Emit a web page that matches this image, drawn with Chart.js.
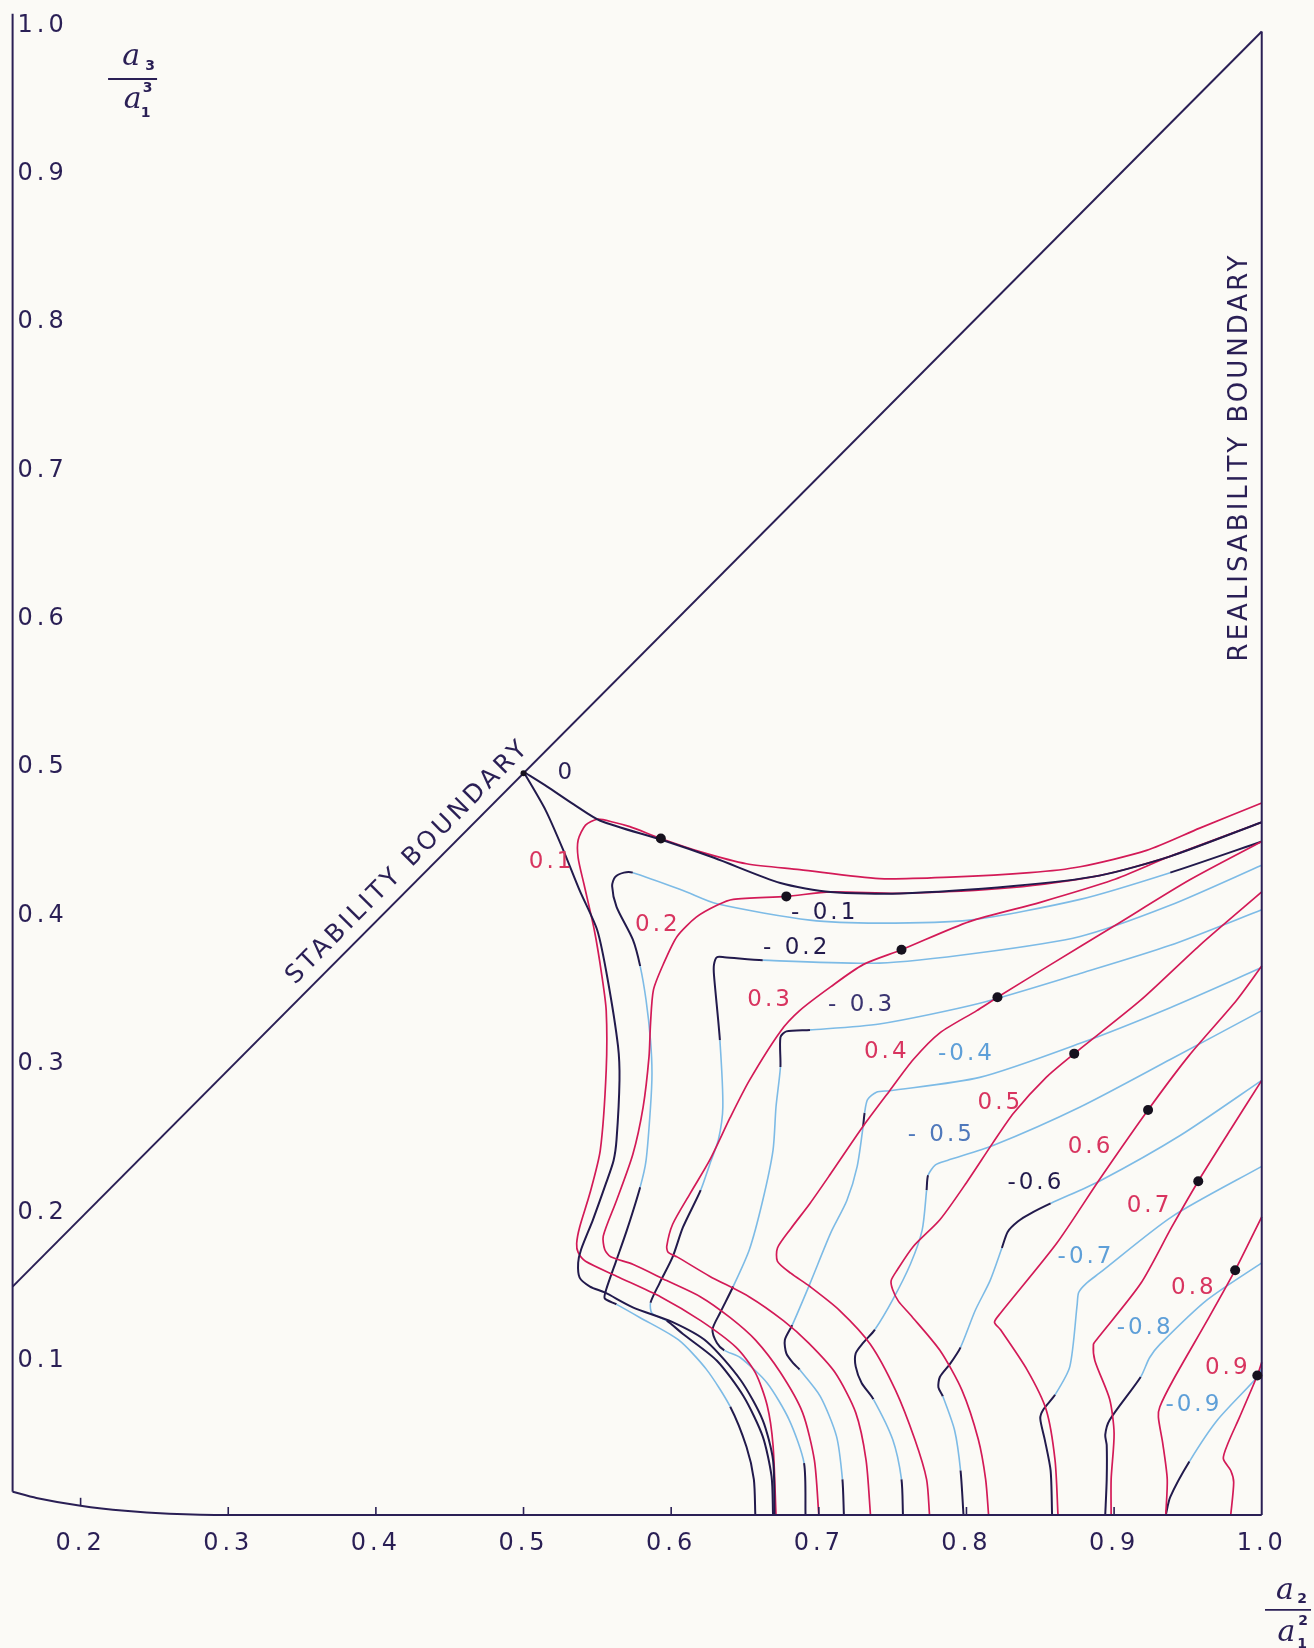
<!DOCTYPE html>
<html lang="en">
<head>
<meta charset="utf-8">
<title>Stability and realisability chart</title>
<script src="https://cdn.jsdelivr.net/npm/chart.js@4/dist/chart.umd.min.js"></script>
<style>
  html, body { margin: 0; padding: 0; background: #fbfaf6; }
  #frame { position: relative; width: 1314px; height: 1648px; }
</style>
</head>
<body>
<div id="frame"><canvas id="chart"></canvas></div>
<script>
// ---- axis ticks --------------------------------------------------------
const xTicks = [0.2, 0.3, 0.4, 0.5, 0.6, 0.7, 0.8, 0.9, 1.0];
const yTicks = [0.1, 0.2, 0.3, 0.4, 0.5, 0.6, 0.7, 0.8, 0.9, 1.0];

// ---- region boundaries (x = a2/a1^2, y = a3/a1^3) ---------------------
const stabilityBoundary = [[0.15394, 0.15394], [1.0, 1.0]];
const realisabilityBoundary = [[1.0, 1.0], [1.0, 0.0]];
const leftEdge = [[0.15394, 0.0157], [0.15394, 1.012]];
const bottomEdge = [[0.15394, 0.0157], [0.17, 0.0115], [0.2, 0.0062], [0.23, 0.0028], [0.26, 0.0009], [0.3, 0.0], [1.0, 0.0]];

// ---- zero contour (upper branch, apex at 0.5/0.5, lower branch) -------
const level0 = [[1.000,0.467],[0.938,0.444],[0.890,0.431],[0.832,0.424],[0.755,0.419],[0.708,0.420],[0.674,0.426],[0.629,0.443],[0.594,0.455],[0.552,0.468],[0.534,0.479],[0.516,0.491],[0.500,0.501],
  [0.515,0.475],[0.527,0.448],[0.538,0.421],[0.550,0.394],[0.557,0.361],[0.564,0.316],[0.565,0.293],[0.563,0.253],[0.561,0.239],[0.556,0.224],[0.547,0.199],[0.539,0.179],[0.537,0.170],[0.538,0.160],[0.545,0.154],[0.555,0.150],[0.574,0.140],[0.601,0.130],[0.624,0.117],[0.647,0.091],[0.662,0.064],[0.669,0.037],[0.670,0.000]];
const level0Apex = 12;

// ---- positive contours -------------------------------------------------
const pos01 = [[1.000,0.480],[0.958,0.463],[0.922,0.448],[0.877,0.437],[0.843,0.433],[0.789,0.430],[0.741,0.429],[0.687,0.435],[0.651,0.439],[0.620,0.447],[0.593,0.456],[0.572,0.464],[0.561,0.467],[0.550,0.469],[0.542,0.465],[0.537,0.455],[0.537,0.443],[0.541,0.425],[0.548,0.394],[0.553,0.364],[0.556,0.340],[0.556,0.300],[0.552,0.246],[0.545,0.217],[0.538,0.194],[0.536,0.183],[0.537,0.177],[0.542,0.171],[0.563,0.161],[0.593,0.147],[0.620,0.131],[0.644,0.113],[0.657,0.096],[0.665,0.074],[0.669,0.047],[0.671,0.000]];
const pos02 = [[1.000,0.467],[0.938,0.444],[0.890,0.431],[0.832,0.423],[0.755,0.419],[0.708,0.420],[0.678,0.417],[0.642,0.415],[0.631,0.411],[0.617,0.403],[0.604,0.390],[0.595,0.372],[0.588,0.354],[0.586,0.331],[0.585,0.309],[0.581,0.275],[0.574,0.243],[0.563,0.212],[0.554,0.188],[0.555,0.179],[0.559,0.174],[0.574,0.169],[0.597,0.158],[0.620,0.147],[0.640,0.133],[0.657,0.118],[0.674,0.096],[0.689,0.069],[0.697,0.037],[0.700,0.000]];
const pos03 = [[1.000,0.467],[0.938,0.444],[0.899,0.428],[0.850,0.413],[0.802,0.400],[0.756,0.381],[0.730,0.371],[0.708,0.356],[0.687,0.340],[0.674,0.326],[0.653,0.293],[0.640,0.268],[0.626,0.239],[0.613,0.217],[0.601,0.196],[0.597,0.181],[0.598,0.177],[0.604,0.174],[0.626,0.161],[0.653,0.147],[0.676,0.131],[0.693,0.116],[0.711,0.096],[0.725,0.069],[0.732,0.037],[0.735,0.000]];
const pos04 = [[1.000,0.454],[0.951,0.428],[0.900,0.397],[0.857,0.371],[0.821,0.349],[0.807,0.340],[0.782,0.325],[0.764,0.307],[0.748,0.286],[0.730,0.262],[0.708,0.230],[0.694,0.210],[0.681,0.193],[0.672,0.180],[0.672,0.171],[0.681,0.163],[0.694,0.154],[0.714,0.138],[0.735,0.115],[0.752,0.084],[0.765,0.051],[0.773,0.024],[0.775,0.000]];
const pos05 = [[1.000,0.420],[0.958,0.384],[0.918,0.347],[0.873,0.311],[0.854,0.295],[0.832,0.271],[0.818,0.251],[0.800,0.224],[0.782,0.199],[0.764,0.181],[0.753,0.165],[0.749,0.158],[0.750,0.152],[0.754,0.144],[0.762,0.135],[0.782,0.111],[0.797,0.084],[0.808,0.051],[0.813,0.024],[0.815,0.000]];
const pos06 = [[1.000,0.370],[0.983,0.347],[0.951,0.310],[0.923,0.273],[0.890,0.226],[0.861,0.183],[0.823,0.136],[0.819,0.130],[0.823,0.125],[0.841,0.098],[0.854,0.071],[0.860,0.037],[0.862,0.000]];
const pos07 = [[1.000,0.293],[0.979,0.260],[0.957,0.225],[0.939,0.194],[0.918,0.156],[0.888,0.118],[0.886,0.115],[0.887,0.104],[0.897,0.078],[0.900,0.055],[0.898,0.024],[0.898,0.000]];
const pos08 = [[1.000,0.201],[0.982,0.165],[0.963,0.131],[0.940,0.091],[0.931,0.073],[0.930,0.066],[0.933,0.048],[0.936,0.024],[0.935,0.000]];
const pos09 = [[1.000,0.103],[0.997,0.094],[0.985,0.066],[0.977,0.048],[0.974,0.038],[0.979,0.030],[0.981,0.022],[0.979,0.000]];

// ---- negative contours -------------------------------------------------
const neg01 = [[1.000,0.454],[0.938,0.433],[0.877,0.415],[0.802,0.401],[0.741,0.399],[0.694,0.401],[0.631,0.412],[0.608,0.421],[0.574,0.433],[0.568,0.433],[0.562,0.430],[0.560,0.424],[0.563,0.410],[0.574,0.388],[0.579,0.370],[0.583,0.347],[0.586,0.320],[0.587,0.298],[0.586,0.275],[0.583,0.239],[0.579,0.221],[0.570,0.192],[0.563,0.172],[0.556,0.152],[0.555,0.146],[0.563,0.142],[0.579,0.133],[0.605,0.118],[0.624,0.098],[0.640,0.073],[0.651,0.046],[0.656,0.024],[0.657,0.000]];
const neg02 = [[1.000,0.438],[0.938,0.411],[0.877,0.390],[0.809,0.379],[0.741,0.372],[0.662,0.374],[0.636,0.376],[0.631,0.376],[0.629,0.371],[0.629,0.364],[0.633,0.320],[0.635,0.275],[0.632,0.253],[0.626,0.236],[0.620,0.219],[0.608,0.194],[0.601,0.174],[0.592,0.156],[0.586,0.143],[0.587,0.136],[0.597,0.131],[0.608,0.122],[0.631,0.104],[0.649,0.080],[0.662,0.053],[0.668,0.026],[0.669,0.000]];
const neg03 = [[1.000,0.408],[0.938,0.384],[0.877,0.365],[0.809,0.345],[0.741,0.331],[0.694,0.327],[0.678,0.326],[0.674,0.322],[0.674,0.302],[0.671,0.275],[0.669,0.246],[0.662,0.212],[0.653,0.179],[0.642,0.154],[0.633,0.136],[0.628,0.125],[0.631,0.116],[0.636,0.111],[0.647,0.106],[0.665,0.089],[0.680,0.064],[0.690,0.035],[0.691,0.000]];
const neg04 = [[1.000,0.369],[0.938,0.342],[0.877,0.318],[0.809,0.295],[0.748,0.286],[0.739,0.285],[0.733,0.280],[0.731,0.271],[0.730,0.262],[0.726,0.235],[0.719,0.212],[0.708,0.190],[0.694,0.156],[0.682,0.128],[0.677,0.118],[0.678,0.109],[0.683,0.102],[0.687,0.098],[0.701,0.080],[0.712,0.053],[0.716,0.024],[0.717,0.000]];
const neg05 = [[1.000,0.340],[0.938,0.307],[0.877,0.275],[0.818,0.249],[0.787,0.239],[0.779,0.236],[0.774,0.229],[0.773,0.219],[0.770,0.192],[0.762,0.169],[0.750,0.145],[0.738,0.125],[0.730,0.116],[0.725,0.109],[0.725,0.100],[0.729,0.089],[0.737,0.078],[0.750,0.051],[0.756,0.024],[0.757,0.000]];
const neg06 = [[1.000,0.293],[0.945,0.256],[0.890,0.225],[0.857,0.210],[0.843,0.203],[0.835,0.198],[0.828,0.191],[0.824,0.180],[0.816,0.158],[0.806,0.138],[0.796,0.113],[0.789,0.102],[0.782,0.093],[0.781,0.086],[0.784,0.080],[0.792,0.057],[0.796,0.030],[0.798,0.000]];
const neg07 = [[1.000,0.235],[0.939,0.201],[0.890,0.163],[0.881,0.156],[0.876,0.150],[0.875,0.142],[0.870,0.100],[0.860,0.081],[0.852,0.071],[0.850,0.065],[0.853,0.051],[0.857,0.030],[0.858,0.000]];
const neg08 = [[1.000,0.170],[0.963,0.145],[0.931,0.115],[0.924,0.106],[0.918,0.093],[0.897,0.064],[0.894,0.054],[0.895,0.047],[0.895,0.024],[0.894,0.000]];
const neg09 = [[1.000,0.099],[0.997,0.093],[0.970,0.064],[0.951,0.036],[0.938,0.012],[0.935,0.000]];

// ---- marked points on the positive contours ----------------------------
const markerPts = [[0.593,0.456],[0.678,0.417],[0.756,0.381],[0.821,0.349],[0.873,0.311],[0.923,0.273],[0.957,0.225],[0.982,0.165],[0.997,0.094]];
const apexPt = [[0.5, 0.5]];

// ---- contour value labels ---------------------------------------------
const posLabels = ['0.1','0.2','0.3','0.4','0.5','0.6','0.7','0.8','0.9'];
const posLabelAt = [[0.519,0.440],[0.591,0.398],[0.667,0.347],[0.746,0.312],[0.823,0.278],[0.884,0.248],[0.924,0.208],[0.954,0.153],[0.977,0.099]];
const negLabels = ['- 0.1','- 0.2','- 0.3','-0.4','- 0.5','-0.6','-0.7','-0.8','-0.9'];
const negLabelAt = [[0.704,0.406],[0.685,0.382],[0.729,0.344],[0.800,0.311],[0.783,0.256],[0.847,0.224],[0.881,0.174],[0.921,0.126],[0.954,0.074]];
const zeroLabel = '0';
const zeroLabelAt = [0.529, 0.500];
const stabilityLabelAt = [0.4218, 0.4402];
const realisabilityLabelAt = [0.9856, 0.7132];

// ---- styling -----------------------------------------------------------
const PAPER = '#fbfaf6';
const INK = '#2a1f55';
const NAVY = '#221a4c';
const RED = '#d31a57';
const RED_TEXT = '#d8345f';
const SKY = '#7dbbe6';
const SKY_TEXT = '#5e9fd8';
const negLabelColors = [NAVY, NAVY, '#3a3470', SKY_TEXT, '#4f78bb', NAVY, SKY_TEXT, SKY_TEXT, SKY_TEXT];
// index ranges of each negative contour drawn with the dark pen
const negDarkRanges = [
  [[0,1],[8,14],[20,25],[29,32]],
  [[5,10],[14,18],[20,26]],
  [[5,8],[13,17],[21,22]],
  [[7,8],[13,17],[20,21]],
  [[6,7],[11,16],[18,19]],
  [[3,7],[10,14],[16,17]],
  [[7,12]],
  [[4,9]],
  [[3,5]]
];
const LABEL_FONT = '23px "DejaVu Sans"';
const TICK_FONT = { family: 'DejaVu Sans', size: 24 };

const X_MIN = 0.15394, X_MAX = 1.0354, Y_MIN = -0.00472, Y_MAX = 1.00641;

// ---- helpers -----------------------------------------------------------
const xy = pts => pts.map(([x, y]) => ({ x, y }));

function curve(pts, color, width, order, extra) {
  return Object.assign({
    data: xy(pts), showLine: true, borderColor: color, backgroundColor: color,
    borderWidth: width, pointRadius: 0, pointHoverRadius: 0, tension: 0.25,
    clip: false, fill: false, order: order
  }, extra || {});
}

function darkPen(ranges) {
  const inDark = i => ranges.some(([a, b]) => i >= a && i < b);
  return {
    borderColor: c => inDark(c.p0DataIndex) ? NAVY : undefined,
    borderWidth: c => inDark(c.p0DataIndex) ? 2.0 : undefined
  };
}

function edgeAt(v) {
  for (let i = 1; i < bottomEdge.length; i++) {
    const [x0, y0] = bottomEdge[i - 1], [x1, y1] = bottomEdge[i];
    if (v <= x1) return y0 + (y1 - y0) * (v - x0) / (x1 - x0);
  }
  return 0;
}

function rotatedText(ctx, text, x, y, angle, font, color, spacing) {
  ctx.save();
  ctx.translate(x, y);
  ctx.rotate(angle);
  ctx.font = font;
  ctx.fillStyle = color;
  ctx.letterSpacing = spacing;
  ctx.textAlign = 'center';
  ctx.textBaseline = 'middle';
  ctx.fillText(text, 0, 0);
  ctx.restore();
}

// fraction such as a3 over a1 cubed, centred on its bar
function fraction(ctx, cx, cy, half, parts) {
  ctx.save();
  ctx.letterSpacing = '0px';
  ctx.strokeStyle = INK;
  ctx.fillStyle = INK;
  ctx.lineWidth = 1.8;
  ctx.beginPath();
  ctx.moveTo(cx - half, cy);
  ctx.lineTo(cx + half, cy);
  ctx.stroke();
  ctx.textAlign = 'center';
  ctx.textBaseline = 'alphabetic';
  parts.forEach(([t, dx, dy, font]) => { ctx.font = font; ctx.fillText(t, cx + dx, cy + dy); });
  ctx.restore();
}
const A_FONT = 'italic 30px "DejaVu Serif"';
const SUB_FONT = 'bold 14px "DejaVu Sans"';

// ---- datasets ----------------------------------------------------------
const datasets = [];
[neg01, neg02, neg03, neg04, neg05, neg06, neg07, neg08, neg09].forEach((pts, i) => {
  datasets.push(curve(pts, SKY, 1.6, 5, { segment: darkPen(negDarkRanges[i]) }));
});
[pos01, pos02, pos03, pos04, pos05, pos06, pos07, pos08, pos09].forEach(pts => {
  datasets.push(curve(pts, RED, 1.7, 4));
});
datasets.push(curve(level0.slice(0, level0Apex + 1), NAVY, 2.0, 3));
datasets.push(curve(level0.slice(level0Apex), NAVY, 2.0, 3));
[stabilityBoundary, realisabilityBoundary, leftEdge].forEach(pts => {
  datasets.push(curve(pts, INK, 2.0, 2, { tension: 0 }));
});
datasets.push(curve(bottomEdge, INK, 2.0, 2, { tension: 0.2 }));
datasets.push({ data: xy(markerPts), showLine: false, pointRadius: 5, pointHoverRadius: 5,
  backgroundColor: '#16111e', borderWidth: 0, clip: false, order: 0 });
datasets.push({ data: xy(apexPt), showLine: false, pointRadius: 3, pointHoverRadius: 3,
  backgroundColor: '#16111e', borderWidth: 0, clip: false, order: 0 });

// ---- labels, names and small marks ------------------------------------
const decorations = {
  id: 'decorations',
  beforeDraw(chart) {
    const ctx = chart.ctx;
    ctx.save();
    ctx.fillStyle = PAPER;
    ctx.fillRect(0, 0, chart.width, chart.height);
    ctx.restore();
    ctx.letterSpacing = '4px';
  },
  afterDatasetsDraw(chart) {
    const ctx = chart.ctx;
    const sx = chart.scales.x, sy = chart.scales.y;
    const px = v => sx.getPixelForValue(v);
    const py = v => sy.getPixelForValue(v);
    ctx.save();
    ctx.letterSpacing = '3px';

    // tick marks rising from the lower edge
    ctx.strokeStyle = INK;
    ctx.lineWidth = 1.6;
    xTicks.forEach(v => {
      if (v >= 1) return;
      const base = py(edgeAt(v));
      ctx.beginPath();
      ctx.moveTo(px(v), base);
      ctx.lineTo(px(v), base - 8);
      ctx.stroke();
    });

    // contour values
    ctx.font = LABEL_FONT;
    ctx.textAlign = 'center';
    ctx.textBaseline = 'middle';
    posLabels.forEach((t, i) => {
      ctx.fillStyle = RED_TEXT;
      ctx.fillText(t, px(posLabelAt[i][0]), py(posLabelAt[i][1]));
    });
    negLabels.forEach((t, i) => {
      ctx.fillStyle = negLabelColors[i];
      ctx.fillText(t, px(negLabelAt[i][0]), py(negLabelAt[i][1]));
    });
    ctx.fillStyle = INK;
    ctx.fillText(zeroLabel, px(zeroLabelAt[0]), py(zeroLabelAt[1]));

    // boundary names
    const slope = Math.atan2(py(1) - py(0.5), px(1) - px(0.5));
    rotatedText(ctx, 'STABILITY BOUNDARY', px(stabilityLabelAt[0]), py(stabilityLabelAt[1]),
      slope, '25px "DejaVu Sans"', INK, '3.5px');
    rotatedText(ctx, 'REALISABILITY BOUNDARY', px(realisabilityLabelAt[0]), py(realisabilityLabelAt[1]),
      -Math.PI / 2, '26px "DejaVu Sans"', INK, '3px');

    // axis quantities
    fraction(ctx, px(0.2352), py(0.9680), 24.5, [
      ['a', -1.5, -14, A_FONT], ['3', 17.5, -9, SUB_FONT],
      ['a', 0, 29, A_FONT], ['3', 15, 13, SUB_FONT], ['1', 13, 38, SUB_FONT]
    ]);
    fraction(ctx, px(1.0178), py(-0.0640), 23, [
      ['a', -3, -11, A_FONT], ['2', 14, -7, SUB_FONT],
      ['a', -1.5, 31, A_FONT], ['2', 15, 15, SUB_FONT], ['1', 14, 38, SUB_FONT]
    ]);
    ctx.restore();
  }
};

new Chart(document.getElementById('chart'), {
  type: 'scatter',
  data: { datasets },
  options: {
    responsive: true,
    maintainAspectRatio: false,
    animation: false,
    events: [],
    layout: { autoPadding: false, padding: { left: 12.6, right: 0, top: 22, bottom: 0 } },
    plugins: { legend: { display: false }, tooltip: { enabled: false } },
    scales: {
      x: {
        type: 'linear', position: 'bottom', min: X_MIN, max: X_MAX,
        afterFit: s => { s.height = 126; },
        afterBuildTicks: s => { s.ticks = xTicks.map(v => ({ value: v })); },
        grid: { display: false, drawTicks: false },
        border: { display: false },
        ticks: { color: INK, font: TICK_FONT, padding: 7, maxRotation: 0, autoSkip: false,
          callback: v => Number(v).toFixed(1) }
      },
      y: {
        type: 'linear', position: 'left', min: Y_MIN, max: Y_MAX,
        afterFit: s => { s.width = 0; },
        afterBuildTicks: s => { s.ticks = yTicks.map(v => ({ value: v })); },
        grid: { display: false, drawTicks: false },
        border: { display: false },
        ticks: { color: INK, font: TICK_FONT, mirror: true, padding: 5, labelOffset: -6, autoSkip: false,
          callback: v => Number(v).toFixed(1) }
      }
    }
  },
  plugins: [decorations]
});
</script>
</body>
</html>
